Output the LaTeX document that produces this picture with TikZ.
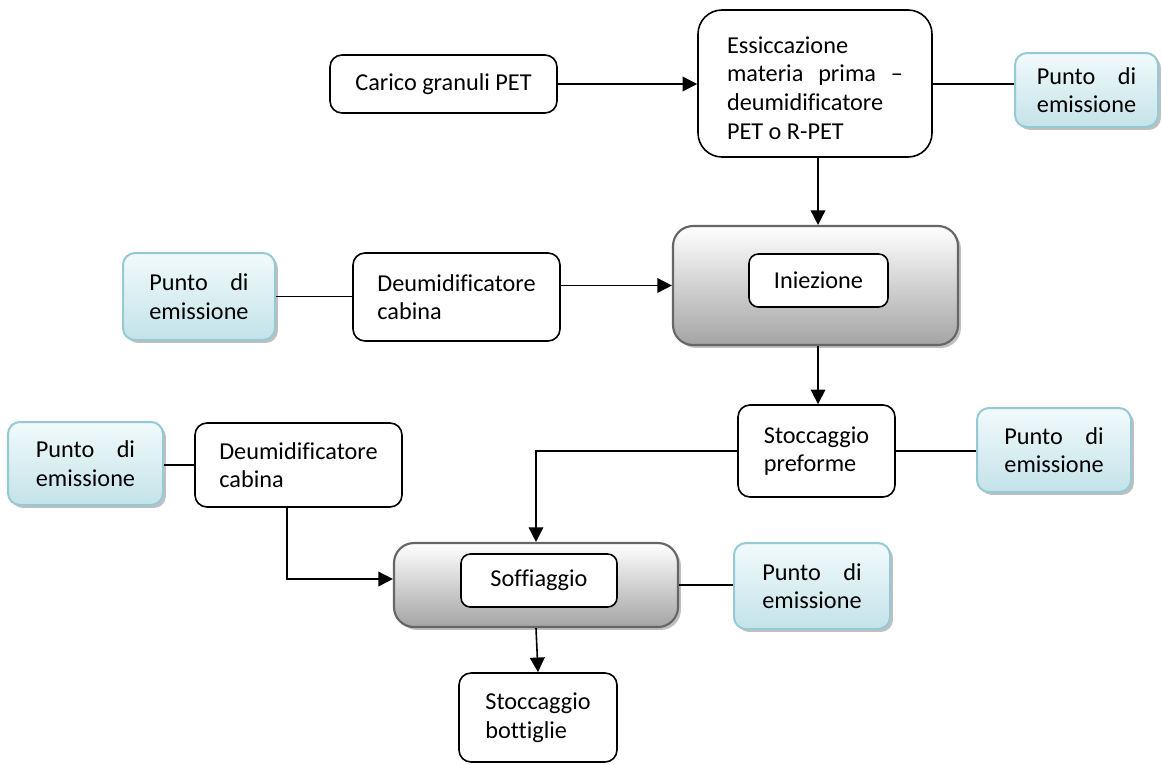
\documentclass[tikz,border=0pt]{standalone}
\usepackage{fontspec}
\setmainfont{Carlito}[Ligatures=NoCommon]
\usetikzlibrary{arrows.meta,shadows,calc}
\definecolor{pborder}{HTML}{95CAD4}
\definecolor{ptop}{HTML}{F2FAFB}
\definecolor{pbot}{HTML}{C3E3E9}
\definecolor{gborder}{HTML}{666666}
\definecolor{gbot}{HTML}{A4A4A4}
\newcommand{\puntoem}{\setbox0\hbox{emissione}\makebox[\wd0][s]{Punto di}\\emissione}
\begin{document}
\begin{tikzpicture}[x=0.75pt,y=-0.75pt,
  every node/.style={font=\fontsize{18.2}{21.5}\selectfont, inner sep=0pt},
  wbox/.style={draw=black, line width=1.2pt, rounded corners=9pt, fill=white, align=left},
  pbox/.style={draw=pborder, line width=1.5pt, rounded corners=9pt, top color=ptop, bottom color=pbot, align=left,
    drop shadow={shadow xshift=2.2pt, shadow yshift=-2.2pt, fill=black!55, opacity=0.45}},
  gbox/.style={draw=gborder, line width=1.6pt, rounded corners=15pt, top color=white, bottom color=gbot,
    drop shadow={shadow xshift=2.2pt, shadow yshift=-2.2pt, fill=black!55, opacity=0.45}},
  conn/.style={line width=1.2pt},
  arr/.style={conn, -{Triangle[length=11pt,width=11pt]}},
  txt/.style={align=flush left}]
\useasboundingbox (0,0) rectangle (1162,764);
% nodes
\node[wbox, minimum width=170.25pt, minimum height=43.5pt] (carico) at (443.5,84) {Carico granuli PET};
\node[wbox, rounded corners=18pt, minimum width=175.5pt, minimum height=110.25pt] (essic) at (815,83.5) {};
\node[txt, text width=132pt] (essict) at (815,88) {Essiccazione\\\makebox[\linewidth][s]{materia prima –}\\deumidificatore\\PET o R-PET};
\node[pbox, minimum width=107.25pt, minimum height=55.5pt] (ptopr) at (1086.5,90) {\puntoem};

\node[gbox, minimum width=213.75pt, minimum height=89.25pt] (inie) at (815.5,285.5) {};
\node[wbox, rounded corners=7pt, minimum width=104.25pt, minimum height=39.75pt] (iniei) at (818.5,280.5) {Iniezione};
\node[wbox, minimum width=155.25pt, minimum height=66pt] (deu1) at (456.5,297) {Deumidificatore\\cabina};
\node[pbox, minimum width=114pt, minimum height=65.25pt] (p1) at (199,296.5) {\puntoem};

\node[wbox, minimum width=117.75pt, minimum height=69pt] (sp) at (816.5,451) {Stoccaggio\\preforme};
\node[pbox, minimum width=115.5pt, minimum height=63pt] (p2) at (1054,450) {\puntoem};

\node[wbox, minimum width=155.25pt, minimum height=63pt] (deu2) at (298.5,465) {Deumidificatore\\cabina};
\node[pbox, minimum width=116.25pt, minimum height=62.25pt] (p3) at (85.5,463.5) {\puntoem};

\node[gbox, minimum width=213pt, minimum height=63pt] (soff) at (536,585) {};
\node[wbox, rounded corners=7pt, minimum width=117pt, minimum height=39.75pt] (soffi) at (539,580.5) {Soffiaggio};
\node[pbox, minimum width=117pt, minimum height=64.5pt] (p4) at (812,586) {\puntoem};

\node[wbox, minimum width=118.5pt, minimum height=66.75pt] (sb) at (538,717.5) {Stoccaggio\\bottiglie};

% connectors
\draw[arr] (carico.east) -- (carico.east -| essic.west);
\draw[conn] (essic.east |- carico.east) -- (carico.east -| ptopr.west);
\draw[arr] ([xshift=2.25pt]essic.south) -- ([xshift=2.25pt]essic.south |- inie.north);
\draw[conn] (p1.east) -- (p1.east -| deu1.west);
\draw[arr] (deu1.east |- inie.west) -- (inie.west);
\draw[arr] ([xshift=1.9pt]inie.south) -- ([xshift=1.9pt]inie.south |- sp.north);
\draw[conn] (sp.east) -- (sp.east -| p2.west);
\draw[arr] (sp.west) -| (soff.north);
\draw[conn] (p3.east |- deu2.west) -- (deu2.west);
\draw[arr] ([xshift=-8.6pt]deu2.south) |- ([yshift=4.5pt]soff.west);
\draw[conn] (soff.east) -- (soff.east -| p4.west);
\draw[arr] (soff.south) -- (sb.north);
\end{tikzpicture}
\end{document}
